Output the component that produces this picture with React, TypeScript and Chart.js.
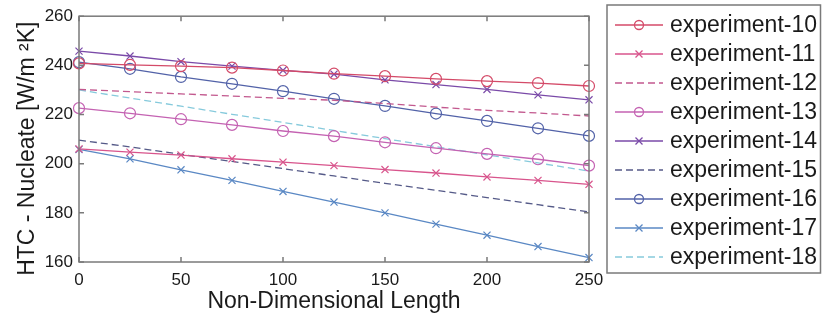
import React, { useEffect, useRef } from 'react';
import { Chart, registerables } from 'chart.js';
Chart.register(...registerables);

const xValues = [0, 25, 50, 75, 100, 125, 150, 175, 200, 225, 250];
const exp10 = [240.8, 240.2, 239.7, 239.1, 237.9, 236.6, 235.6, 234.5, 233.6, 232.8, 231.6];
const exp11 = [206.0, 204.7, 203.5, 202.0, 200.6, 199.2, 197.6, 196.2, 194.6, 193.2, 191.6];
const exp12 = [230.2, 229.3, 228.4, 227.5, 226.6, 225.8, 224.5, 223.0, 221.7, 220.6, 219.4];
const exp13 = [222.6, 220.5, 218.1, 215.8, 213.3, 211.2, 208.7, 206.3, 204.0, 201.8, 199.2];
const exp14 = [245.8, 243.8, 241.5, 239.7, 238.0, 236.4, 234.1, 232.2, 230.2, 228.0, 226.0];
const exp15 = [209.6, 206.8, 203.8, 200.9, 198.0, 195.0, 192.0, 189.2, 186.2, 183.3, 180.4];
const exp16 = [241.3, 238.6, 235.3, 232.5, 229.5, 226.4, 223.5, 220.4, 217.4, 214.4, 211.3];
const exp17 = [205.8, 202.0, 197.5, 193.2, 188.7, 184.4, 180.0, 175.4, 170.9, 166.3, 161.8];
const exp18 = [230.0, 226.7, 223.4, 220.1, 216.8, 213.5, 210.2, 206.9, 203.6, 200.3, 197.0];

const seriesNames = [
  'experiment-10', 'experiment-11', 'experiment-12', 'experiment-13', 'experiment-14',
  'experiment-15', 'experiment-16', 'experiment-17', 'experiment-18',
];
const seriesValues = [exp10, exp11, exp12, exp13, exp14, exp15, exp16, exp17, exp18];
const seriesColors = ['#d44a68', '#d8548c', '#c2588e', '#c462b2', '#7a4aa8', '#555a88', '#5262a8', '#5a88c4', '#86cadc'];
const seriesMarkers = ['circle', 'x', 'none', 'circle', 'x', 'none', 'circle', 'x', 'none'];

const xTicks = [0, 50, 100, 150, 200, 250];
const yTicks = [160, 180, 200, 220, 240, 260];

const FONT = '"Liberation Sans", Arial, sans-serif';

function drawMarker(ctx: CanvasRenderingContext2D, kind: string, x: number, y: number, r: number) {
  ctx.beginPath();
  if (kind === 'circle') {
    ctx.arc(x, y, r, 0, Math.PI * 2);
  } else if (kind === 'x') {
    ctx.moveTo(x - r, y - r);
    ctx.lineTo(x + r, y + r);
    ctx.moveTo(x + r, y - r);
    ctx.lineTo(x - r, y + r);
  }
  ctx.stroke();
}

const framePlugin = {
  id: 'frame',
  afterDraw(chart: any) {
    const { ctx, chartArea } = chart;
    const xs = chart.scales.x;
    const ys = chart.scales.y;
    ctx.save();
    ctx.strokeStyle = '#7a7a7a';
    ctx.lineWidth = 1.5;
    ctx.setLineDash([]);
    ctx.strokeRect(chartArea.left, chartArea.top, chartArea.right - chartArea.left, chartArea.bottom - chartArea.top);
    const tl = 5;
    ctx.beginPath();
    xTicks.forEach((v) => {
      const px = xs.getPixelForValue(v);
      ctx.moveTo(px, chartArea.bottom);
      ctx.lineTo(px, chartArea.bottom - tl);
      ctx.moveTo(px, chartArea.top);
      ctx.lineTo(px, chartArea.top + tl);
    });
    yTicks.forEach((v) => {
      const py = ys.getPixelForValue(v);
      ctx.moveTo(chartArea.left, py);
      ctx.lineTo(chartArea.left + tl, py);
      ctx.moveTo(chartArea.right, py);
      ctx.lineTo(chartArea.right - tl, py);
    });
    ctx.stroke();

    // legend box
    const left = chartArea.right + 18;
    const top = 5;
    const right = chart.width - 1.5;
    const bottom = 273;
    ctx.fillStyle = '#ffffff';
    ctx.fillRect(left, top, right - left, bottom - top);
    ctx.strokeStyle = '#7a7a7a';
    ctx.lineWidth = 1.5;
    ctx.strokeRect(left, top, right - left, bottom - top);
    const rowH = (bottom - top - 36) / (seriesNames.length - 1);
    ctx.font = '23px ' + FONT;
    ctx.textBaseline = 'middle';
    ctx.textAlign = 'left';
    seriesNames.forEach((name, i) => {
      const y = top + 20 + i * rowH;
      const x0 = left + 8;
      const x1 = left + 56;
      const ds = chart.data.datasets[i];
      ctx.strokeStyle = seriesColors[i];
      ctx.lineWidth = 1.3;
      ctx.setLineDash(ds.borderDash || []);
      ctx.beginPath();
      ctx.moveTo(x0, y);
      ctx.lineTo(x1, y);
      ctx.stroke();
      ctx.setLineDash([]);
      drawMarker(ctx, seriesMarkers[i], (x0 + x1) / 2, y, seriesMarkers[i] === 'circle' ? 4.5 : 3.5);
      ctx.fillStyle = '#1a1a1a';
      ctx.fillText(name, left + 63, y + 1);
    });
    ctx.restore();
  },
};

export default function App() {
  const ref = useRef<HTMLCanvasElement | null>(null);
  useEffect(() => {
    document.body.style.margin = '0';
    const canvas = ref.current;
    if (!canvas) return;
    const datasets = seriesNames.map((name, i) => {
      const marker = seriesMarkers[i];
      const dashed = marker === 'none';
      return {
        label: name,
        data: xValues.map((x, j) => ({ x, y: seriesValues[i][j] })),
        borderColor: seriesColors[i],
        backgroundColor: 'rgba(0,0,0,0)',
        borderWidth: 1.3,
        borderDash: dashed ? [7, 4] : [],
        pointStyle: marker === 'circle' ? 'circle' : marker === 'x' ? 'crossRot' : false,
        pointRadius: marker === 'none' ? 0 : marker === 'circle' ? 5.5 : 5,
        pointBorderWidth: 1.2,
        pointBorderColor: seriesColors[i],
        pointBackgroundColor: 'rgba(0,0,0,0)',
        clip: false,
        tension: 0,
      };
    });
    const chart = new Chart(canvas, {
      type: 'line',
      data: { datasets: datasets as any },
      options: {
        animation: false,
        responsive: false,
        devicePixelRatio: 1,
        layout: { padding: { left: 0, top: 14, right: 233, bottom: 0 } },
        plugins: { legend: { display: false }, tooltip: { enabled: false } },
        scales: {
          x: {
            type: 'linear',
            min: 0,
            max: 250,
            afterFit: (s: any) => { s.height = 58; },
            afterBuildTicks: (s: any) => { s.ticks = xTicks.map((v) => ({ value: v })); },
            grid: { display: false, drawTicks: false },
            border: { display: false },
            ticks: { color: '#1a1a1a', font: { size: 17, family: FONT }, padding: 8, maxRotation: 0 },
            title: { display: true, text: 'Non-Dimensional Length', color: '#1a1a1a', font: { size: 23, family: FONT }, padding: { top: 0, bottom: 5 } },
          },
          y: {
            type: 'linear',
            min: 160,
            max: 260,
            afterFit: (s: any) => { s.width = 79; },
            afterBuildTicks: (s: any) => { s.ticks = yTicks.map((v) => ({ value: v })); },
            grid: { display: false, drawTicks: false },
            border: { display: false },
            ticks: { color: '#1a1a1a', font: { size: 17, family: FONT }, padding: 6 },
            title: { display: true, text: 'HTC - Nucleate [W/m ²K]\u00a0\u00a0\u00a0', color: '#1a1a1a', font: { size: 23, family: FONT }, padding: { top: 14, bottom: 0 } },
          },
        },
      },
      plugins: [framePlugin],
    });
    return () => chart.destroy();
  }, []);
  return <canvas ref={ref} width={822} height={320} style={{ display: 'block', width: 822, height: 320 }} />;
}
